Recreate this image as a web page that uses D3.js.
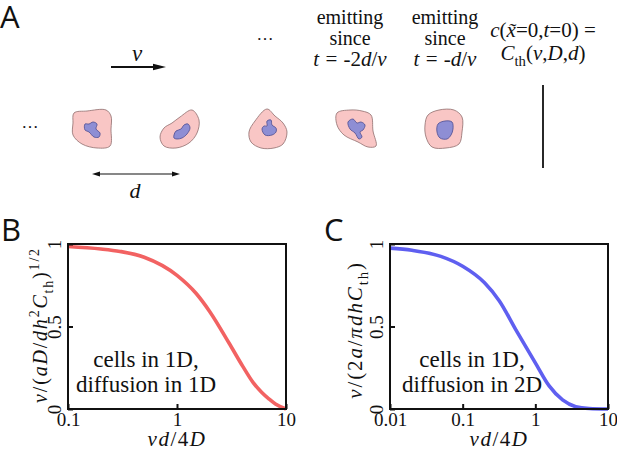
<!DOCTYPE html>
<html>
<head>
<meta charset="utf-8">
<script src="https://cdn.jsdelivr.net/npm/d3@7"></script>
</head>
<body style="margin:0">
<svg width="617" height="458"></svg>
<script>
// --- data ---
// B: cells in 1D, diffusion in 1D
var bX = [0.1, 0.2, 0.3, 0.5, 1, 1.5, 2, 3, 4, 5, 6, 7, 8, 10];
var bY = [0.985, 0.97, 0.955, 0.92, 0.81, 0.7, 0.59, 0.4, 0.26, 0.16, 0.1, 0.06, 0.03, 0];
// C: cells in 1D, diffusion in 2D
var cX = [0.01, 0.02, 0.05, 0.1, 0.2, 0.32, 0.54, 1, 1.55, 2.37, 3.6, 5.5, 10];
var cY = [0.975, 0.962, 0.925, 0.865, 0.765, 0.655, 0.48, 0.28, 0.14, 0.055, 0.014, 0.003, 0];
var bTicksX = [0.1, 1, 10];
var cTicksX = [0.01, 0.1, 1, 10];
var ticksY = [0, 0.5, 1];
var cellIdx = [0, 1, 2, 3, 4];

// cell outlines (membrane m, nucleus n), offsets from the cell centre
var cellShapes = [
  { m: [[-18,-16],[-5,-18],[14,-19],[19,-13],[19,0],[18,17],[5,19],[-10,15],[-19,6],[-19,-6]],
    n: [[-7,-5],[-3,-5],[1,-7],[5,-5],[4,0],[8,4],[7,8],[2,8],[-3,3],[-7,1]] },
  { m: [[12,-19],[19,-9],[17,4],[9,14],[-4,19],[-16,17],[-20,8],[-16,-1],[-8,-6],[0,-12]],
    n: [[-6,6],[-4,2],[1,0],[4,-4],[8,-5],[10,-1],[7,5],[2,9],[-3,10],[-6,9]] },
  { m: [[-1,-20],[7,-13],[15,-6],[19,3],[15,15],[6,19],[-7,19],[-17,13],[-19,3],[-13,-8]],
    n: [[-6,0],[-4,-3],[-1,-3],[-1,-8],[3,-9],[4,-4],[8,-1],[8,3],[4,6],[-3,6]] },
  { m: [[-19,-16],[-6,-19],[6,-18],[15,-14],[17,2],[20,17],[12,18],[2,13],[-12,6],[-19,-4]],
    n: [[-8,-7],[-3,-10],[1,-6],[5,-7],[9,-4],[7,1],[4,3],[6,8],[3,10],[-1,4],[-6,0]] },
  { m: [[-16,-14],[-5,-19],[10,-19],[18,-12],[18,3],[15,15],[2,19],[-12,18],[-18,8],[-19,-4]],
    n: [[-6,-5],[1,-8],[8,-7],[9,0],[7,6],[3,10],[-4,9],[-7,3]] }
];

var SERIF = "Liberation Serif";
var SANS = "Open Sans";

var svg = d3.select("svg");

// write math-ish text as tspans: i = italic, r = roman, sup / sub = small raised / lowered
function mathText(sel, segs, size) {
  var shift = 0;
  sel.attr("font-family", SERIF).attr("font-size", size).attr("fill", "#111");
  segs.forEach(function (s) {
    var k = s[1];
    var target = k === "sup" ? -0.42 * size : k === "sub" ? 0.28 * size : 0;
    sel.append("tspan")
      .attr("dy", target - shift)
      .attr("font-style", k === "i" ? "italic" : "normal")
      .attr("font-size", (k === "sup" || k === "sub") ? size * 0.7 : size)
      .text(s[0]);
    shift = target;
  });
  return sel;
}

function plain(x, yy, t, size) {
  return svg.append("text").attr("x", x).attr("y", yy).attr("text-anchor", "middle")
    .attr("font-family", SERIF).attr("font-size", size).attr("fill", "#111").text(t);
}

// panel letters
[["A", 0, 28], ["B", 1, 241], ["C", 324, 241]].forEach(function (p) {
  svg.append("text").attr("x", p[1]).attr("y", p[2])
    .attr("font-family", SANS).attr("font-size", 31).attr("fill", "#111").text(p[0]);
});

// ---------- panel A ----------
var cellY = 129;
var xCell = d3.scaleLinear().domain([0, 4]).range([92, 444]);
var blob = d3.line().curve(d3.curveCatmullRomClosed.alpha(0.5));

var cells = svg.selectAll("g.cell")
  .data(cellIdx)
  .enter()
  .append("g")
  .attr("class", "cell")
  .attr("transform", function (d) { return "translate(" + xCell(d) + "," + cellY + ")"; });

cells.append("path")
  .attr("d", function (d) { return blob(cellShapes[d].m); })
  .attr("fill", "#f9c6c5")
  .attr("stroke", "#8f6d6d")
  .attr("stroke-width", 0.8);

cells.append("path")
  .attr("d", function (d) { return blob(cellShapes[d].n); })
  .attr("fill", "#8e8ed4")
  .attr("stroke", "#4d4d90")
  .attr("stroke-width", 0.8);

// ellipses
plain(30, 128, "\u2026", 17);
plain(265, 40, "\u2026", 17);

// velocity arrow
svg.append("line").attr("x1", 111).attr("x2", 157).attr("y1", 67).attr("y2", 67)
  .attr("stroke", "#111").attr("stroke-width", 2.2);
svg.append("path").attr("d", "M153,63.8L166,67L153,70.2Z").attr("fill", "#111");
mathText(svg.append("text").attr("x", 137).attr("y", 61).attr("text-anchor", "middle"),
  [["v", "i"]], 23);

// spacing arrow between two neighbouring cells
var dx0 = xCell(0), dx1 = xCell(1), dyA = 174;
svg.append("line").attr("x1", dx0 + 4).attr("x2", dx1 - 4).attr("y1", dyA).attr("y2", dyA)
  .attr("stroke", "#111").attr("stroke-width", 1.1);
svg.append("path")
  .attr("d", "M" + dx0 + "," + dyA + "l8,-2.6v5.2Z M" + dx1 + "," + dyA + "l-8,-2.6v5.2Z")
  .attr("fill", "#111");
mathText(svg.append("text").attr("x", (dx0 + dx1) / 2 - 1).attr("y", 198).attr("text-anchor", "middle"),
  [["d", "i"]], 22);

// emitting labels
function emitting(cx, segs) {
  plain(cx, 24, "emitting", 20);
  plain(cx, 45, "since", 20);
  mathText(svg.append("text").attr("x", cx).attr("y", 66).attr("text-anchor", "middle")
    .attr("word-spacing", 1), segs, 21);
}
emitting(350, [["t", "i"], [" = -2", "r"], ["d", "i"], ["/", "r"], ["v", "i"]]);
emitting(445, [["t", "i"], [" = -", "r"], ["d", "i"], ["/", "r"], ["v", "i"]]);

mathText(svg.append("text").attr("x", 543).attr("y", 37).attr("text-anchor", "middle"),
  [["c", "i"], ["(", "r"], ["x\u0303", "i"], ["=0,", "r"], ["t", "i"], ["=0) =", "r"]], 21);
mathText(svg.append("text").attr("x", 543).attr("y", 60).attr("text-anchor", "middle"),
  [["C", "i"], ["th", "sub"], ["(", "r"], ["v", "i"], [",", "r"], ["D", "i"], [",", "r"], ["d", "i"], [")", "r"]], 21);

// threshold position
svg.append("line").attr("x1", 543).attr("x2", 543).attr("y1", 85).attr("y2", 168)
  .attr("stroke", "#111").attr("stroke-width", 1.8);

// ---------- panels B and C ----------
var plotTop = 244, plotBottom = 409;
var y = d3.scaleLinear().domain([0, 1]).range([plotBottom, plotTop]);

function plot(opt) {
  var x = d3.scaleLog().domain(opt.domain).range([opt.x0, opt.x1]);
  var g = svg.append("g");

  var line = d3.line()
    .x(function (d) { return x(d[0]); })
    .y(function (d) { return y(d[1]); })
    .curve(d3.curveMonotoneX);

  g.append("path")
    .datum(d3.zip(opt.xs, opt.ys))
    .attr("d", line)
    .attr("fill", "none")
    .attr("stroke", opt.color)
    .attr("stroke-width", 3.6);

  g.append("rect")
    .attr("x", opt.x0).attr("y", plotTop)
    .attr("width", opt.x1 - opt.x0).attr("height", plotBottom - plotTop)
    .attr("fill", "none").attr("stroke", "#111").attr("stroke-width", 2);

  var xa = g.append("g")
    .attr("transform", "translate(0," + plotBottom + ")")
    .call(d3.axisBottom(x).tickValues(opt.ticks).tickFormat(function (d) { return d; })
      .tickSizeInner(-5).tickSizeOuter(0).tickPadding(4));
  var ya = g.append("g")
    .attr("transform", "translate(" + opt.x0 + ",0)")
    .call(d3.axisLeft(y).tickValues(ticksY).tickFormat(function (d) { return d; })
      .tickSizeInner(-5).tickSizeOuter(0));

  [xa, ya].forEach(function (a) {
    a.attr("font-family", SERIF).attr("font-size", 19);
    a.select(".domain").remove();
    a.selectAll(".tick line").attr("stroke", "#111").attr("stroke-width", 2);
    a.selectAll("text").attr("fill", "#111");
  });
  ya.selectAll("text")
    .attr("x", null).attr("dy", null)
    .attr("text-anchor", "middle")
    .attr("transform", "translate(-7,0) rotate(-90)");

  // x label
  mathText(g.append("text").attr("x", (opt.x0 + opt.x1) / 2).attr("y", 446).attr("text-anchor", "middle")
      .attr("letter-spacing", 1.5),
    [["vd", "i"], ["/4", "r"], ["D", "i"]], 21);

  // y label
  mathText(g.append("text")
      .attr("text-anchor", "middle")
      .attr("transform", "translate(" + opt.ylx + "," + opt.lyc + ") rotate(-90)")
      .attr("letter-spacing", opt.ls),
    opt.ylabel, opt.ysize);

  // note
  opt.note.forEach(function (t, i) {
    g.append("text").attr("x", opt.nx).attr("y", 367 + i * 25)
      .attr("text-anchor", "middle")
      .attr("font-family", SERIF).attr("font-size", 23).attr("fill", "#111").text(t);
  });
}

plot({
  x0: 68, x1: 286, domain: [0.1, 10], ticks: bTicksX, xs: bX, ys: bY, color: "#f26262",
  ylx: 47, lyc: 325, ls: 1.8, ysize: 20,
  ylabel: [["v", "i"], ["/(", "r"], ["aD", "i"], ["/", "r"], ["dh", "i"], ["2", "sup"], ["C", "i"], ["th", "sub"], [")", "r"], ["1/2", "sup"]],
  nx: 146, note: ["cells in 1D,", "diffusion in 1D"]
});

plot({
  x0: 390, x1: 608, domain: [0.01, 10], ticks: cTicksX, xs: cX, ys: cY, color: "#5f5ff0",
  ylx: 362, lyc: 330, ls: 1.9, ysize: 21,
  ylabel: [["v", "i"], ["/(2", "r"], ["a", "i"], ["/", "r"], ["\u03c0dhC", "i"], ["th", "sub"], [")", "r"]],
  nx: 472, note: ["cells in 1D,", "diffusion in 2D"]
});
</script>
</body>
</html>
